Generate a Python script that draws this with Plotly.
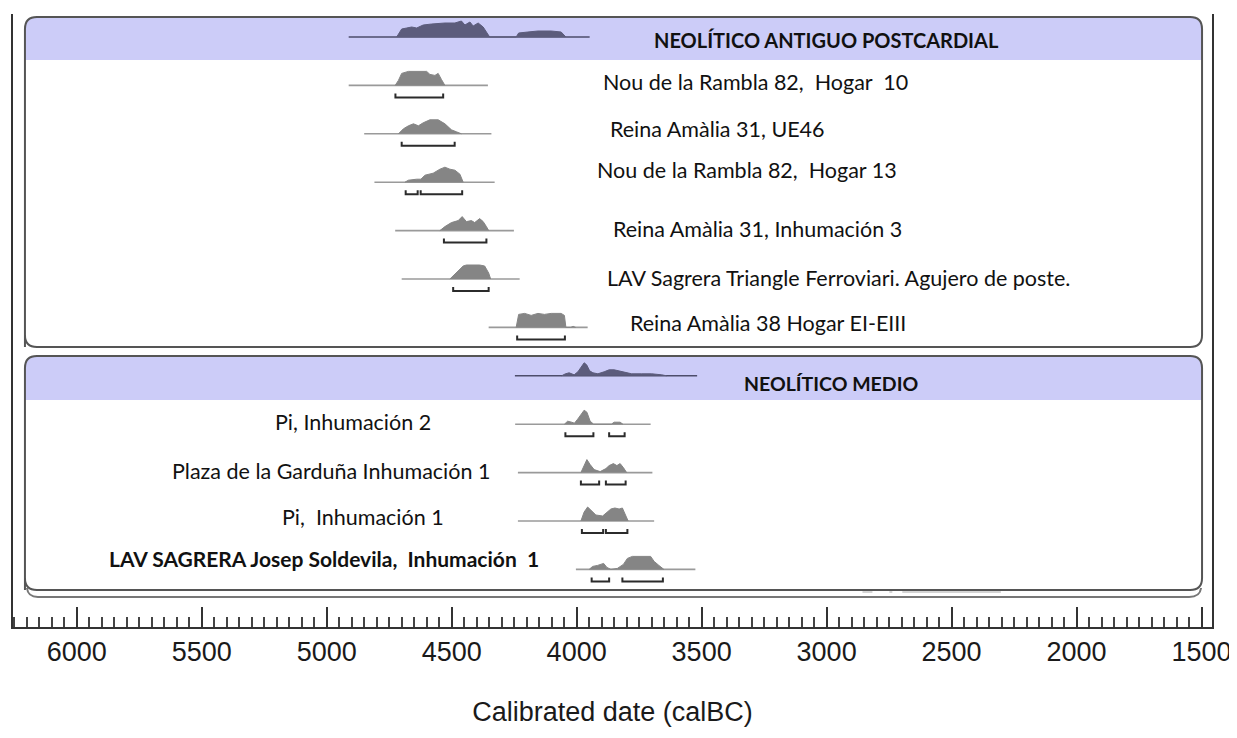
import plotly.graph_objects as go

# ---- data (calBC), top to bottom ----
labels = [
    "NEOLÍTICO ANTIGUO POSTCARDIAL",
    "Nou de la Rambla 82,\u00a0 Hogar\u00a0 10",
    "Reina Amàlia 31, UE46",
    "Nou de la Rambla 82,\u00a0 Hogar 13",
    "Reina Amàlia 31, Inhumación 3",
    "LAV Sagrera Triangle Ferroviari. Agujero de poste.",
    "Reina Amàlia 38 Hogar EI-EIII",
    "NEOLÍTICO MEDIO",
    "Pi, Inhumación 2",
    "Plaza de la Garduña Inhumación 1",
    "Pi,\u00a0 Inhumación 1",
    "LAV SAGRERA Josep Soldevila,\u00a0 Inhumación\u00a0 1",
]
header_rows = [0, 7]
bold_rows = [0, 7, 11]

# baseline extent of each distribution
extent_start = [4912, 4912, 4850, 4809, 4726, 4700, 4352, 4247, 4246, 4235, 4235, 4003]
extent_end = [3948, 4355, 4341, 4328, 4251, 4228, 3956, 3518, 3704, 3697, 3690, 3525]

# probability distributions (relative)
dist_years = [
    [4720, 4700, 4680, 4660, 4640, 4614, 4580, 4527, 4487, 4461, 4447, 4427, 4414, 4394, 4374, 4361, 4348,
     4242, 4232, 4195, 4155, 4102, 4062, 4043],
    [4726, 4713, 4700, 4673, 4600, 4587, 4567, 4554, 4541, 4527],
    [4713, 4693, 4673, 4653, 4633, 4614, 4587, 4554, 4527, 4501, 4481, 4461],
    [4687, 4673, 4640, 4623, 4607, 4574, 4547, 4527, 4507, 4487, 4467, 4454],
    [4547, 4527, 4501, 4474, 4458, 4441, 4421, 4408, 4388, 4374, 4361, 4352],
    [4507, 4487, 4467, 4454, 4441, 4388, 4368, 4352, 4344],
    [4242, 4232, 4208, 4182, 4155, 4129, 4102, 4062, 4049, 4043, 4024, 4014, 4004],
    [4060, 4045, 4030, 4010, 3995, 3982, 3970, 3960, 3948, 3935, 3915, 3890, 3870, 3850, 3830, 3812, 3798,
     3780, 3740, 3700, 3660, 3640],
    [4049, 4036, 4020, 4009, 3996, 3983, 3970, 3959, 3946, 3932, 3861, 3850, 3826, 3815],
    [3983, 3970, 3959, 3946, 3930, 3906, 3883, 3870, 3853, 3839, 3826, 3813, 3800],
    [3983, 3970, 3956, 3940, 3923, 3896, 3883, 3863, 3847, 3830, 3817, 3804, 3794],
    [3950, 3936, 3916, 3892, 3879, 3863, 3837, 3813, 3797, 3777, 3704, 3690, 3671, 3651],
]
dist_prob = [
    [0, 8, 9, 10, 9, 12, 13, 14, 14, 16, 12, 15, 11, 14, 10, 5, 0, 0, 4, 5, 6, 6, 5, 0],
    [0, 5, 12, 14, 14, 11, 10, 12, 6, 0],
    [0, 5, 8, 10, 8, 11, 14, 14, 10, 4, 2, 0],
    [0, 2, 3, 3, 7, 9, 13, 15, 13, 12, 8, 0],
    [0, 4, 8, 10, 14, 9, 10, 8, 12, 9, 4, 0],
    [0, 5, 9, 13, 14, 14, 13, 6, 0],
    [0, 13, 14, 12, 14, 13, 14, 14, 12, 0, 0, 1, 0],
    [0, 2, 3, 1, 4, 9, 13, 11, 5, 3, 2, 4, 6, 6, 5, 4, 3, 2, 2, 2, 1, 0],
    [0, 3, 2, 1, 5, 10, 14, 12, 3, 0, 0, 2, 2, 0],
    [0, 8, 13, 8, 3, 1, 4, 7, 9, 7, 9, 5, 0],
    [0, 9, 14, 10, 6, 5, 8, 12, 13, 12, 13, 5, 0],
    [0, 3, 4, 6, 2, 0, 1, 5, 11, 13, 13, 8, 4, 0],
]

# 95.4% ranges (brackets)
range_row = [1, 2, 3, 3, 4, 5, 6, 8, 8, 9, 9, 10, 10, 11, 11]
range_from = [4725, 4700, 4684, 4624, 4531, 4494, 4238, 4045, 3870, 3983, 3883, 3979, 3883, 3940, 3817]
range_to = [4534, 4488, 4636, 4458, 4361, 4352, 4047, 3933, 3808, 3910, 3804, 3894, 3797, 3870, 3655]

# label anchors: box 1 left-aligned, box 2 right-aligned (except header)
label_x = [3697, 3904, 3873, 3928, 3861, 3888, 3793, 3339, 4574, 4339, 4522, 4143]
label_anchor = ["left"] * 8 + ["right"] * 4
label_dy = [3, -3, -5, -12, -2, -1, -4, 8, -2, -2, -4, -11]  # px from baseline

# ---- geometry (screen px; page body adds an 8px offset) ----
OFF = 8
W, H = 1237 - OFF, 738 - OFF
SLOT = 48.4      # px between rows
TOP_PX = 37      # baseline of first row (px)
PLOT_T, PLOT_B, PLOT_L, PLOT_R = 14, 627, 13, 1217
scale = 1 / SLOT  # rel. probability unit = 1 px


def px_x(p):
    return (p - PLOT_L) / (PLOT_R - PLOT_L)


def px_y(p):
    return (PLOT_B - p) / (PLOT_B - PLOT_T)


def rounded(x0, y0, x1, y1, r, top_only=False):
    X0, X1 = px_x(x0), px_x(x1)
    Y0, Y1 = px_y(y0), px_y(y1)
    rx, ry = r / (PLOT_R - PLOT_L), r / (PLOT_B - PLOT_T)
    p = f"M {X0},{Y1} L {X0},{Y0 - ry} Q {X0},{Y0} {X0 + rx},{Y0} L {X1 - rx},{Y0} Q {X1},{Y0} {X1},{Y0 - ry} "
    if top_only:
        p += f"L {X1},{Y1} Z"
    else:
        p += f"L {X1},{Y1 + ry} Q {X1},{Y1} {X1 - rx},{Y1} L {X0 + rx},{Y1} Q {X0},{Y1} {X0},{Y1 + ry} Z"
    return p


fig = go.Figure()

for i in range(len(labels)):
    hdr = i in header_rows
    line_c = "#4d4d6b" if hdr else "#9a9a9a"
    fill_c = "#5c5c7c" if hdr else "#858585"
    fig.add_trace(go.Scatter(x=[extent_start[i], extent_end[i]], y=[i, i], mode="lines",
                             line=dict(color=line_c, width=1.6), hoverinfo="skip"))
    fig.add_trace(go.Scatter(x=dist_years[i], y=[i - v * scale for v in dist_prob[i]], mode="lines",
                             fill="toself", fillcolor=fill_c, line=dict(color=fill_c, width=1),
                             hoverinfo="skip"))

bx, by = [], []
off, tick = 12 / SLOT, 4 / SLOT
for r, a, b in zip(range_row, range_from, range_to):
    bx += [a, a, b, b, None]
    by += [r + off - tick, r + off, r + off, r + off - tick, None]
fig.add_trace(go.Scatter(x=bx, y=by, mode="lines", line=dict(color="#2b2b2b", width=2), hoverinfo="skip"))

for i, t in enumerate(labels):
    bold = i in bold_rows
    hdr = i in header_rows
    size = (20 if i == 0 else 19.5) if hdr else (21 if bold else 21.5)
    fig.add_annotation(
        x=label_x[i], y=i + label_dy[i] / SLOT, text=f"<b>{t}</b>" if bold else t,
        xanchor=label_anchor[i], yanchor="middle", showarrow=False,
        font=dict(family="Lato", size=size, color="#111"),
    )

shapes = [
    dict(type="path", path=rounded(25, 17, 1207, 60, 12, top_only=True), fillcolor="#ccccf8",
         line=dict(width=0), layer="below"),
    dict(type="path", path=rounded(25, 356, 1207, 400, 12, top_only=True), fillcolor="#ccccf8",
         line=dict(width=0), layer="below"),
    dict(type="path", path=rounded(25, 17, 1207, 347, 12), line=dict(color="#555", width=2), layer="below"),
    dict(type="path", path=rounded(25, 356, 1207, 590, 12), line=dict(color="#555", width=2), layer="below"),
    dict(type="path",
         path=f"M {px_x(27)},{px_y(588)} Q {px_x(28)},{px_y(597)} {px_x(38)},{px_y(597)} "
              f"L {px_x(1194)},{px_y(597)} Q {px_x(1205)},{px_y(597)} {px_x(1206)},{px_y(588)}",
         line=dict(color="#777", width=2), layer="below"),
]
for a, b in [(866, 876), (893, 896), (906, 1005)]:
    shapes.append(dict(type="line", x0=px_x(a), x1=px_x(b), y0=px_y(592), y1=px_y(592),
                       line=dict(color="#d4d4d4", width=2), layer="below"))
for s in shapes:
    s.setdefault("xref", "paper")
    s.setdefault("yref", "paper")
fig.update_layout(shapes=shapes)

x_lo = 6000 + (77 - PLOT_L) / 0.251
x_hi = 6000 - (PLOT_R - 77) / 0.251
fig.update_layout(
    width=W, height=H,
    margin=dict(l=PLOT_L - OFF, r=W - (PLOT_R - OFF), t=PLOT_T - OFF, b=H - (PLOT_B - OFF)),
    paper_bgcolor="white", plot_bgcolor="white",
    showlegend=False,
    xaxis=dict(range=[x_lo, x_hi], dtick=500, tick0=0, ticks="inside", ticklen=20, tickwidth=2,
               tickcolor="#333", showline=True, linecolor="#333", linewidth=2, showgrid=False,
               zeroline=False, tickformat="d", ticklabeloverflow="allow",
               tickfont=dict(family="Liberation Sans, Arial", size=27, color="#1a1a1a"),
               minor=dict(dtick=50, ticks="inside", ticklen=10, tickwidth=1.5, tickcolor="#444",
                          showgrid=False),
               title=dict(text="Calibrated date (calBC)", standoff=36,
                          font=dict(family="Liberation Sans, Arial", size=27, color="#1a1a1a"))),
    yaxis=dict(range=[(PLOT_B - TOP_PX) / SLOT, (PLOT_T - TOP_PX) / SLOT], showticklabels=False,
               ticks="", showgrid=False, zeroline=False, showline=True, mirror=True,
               linecolor="#333", linewidth=2),
)

fig.write_html("out.html")
